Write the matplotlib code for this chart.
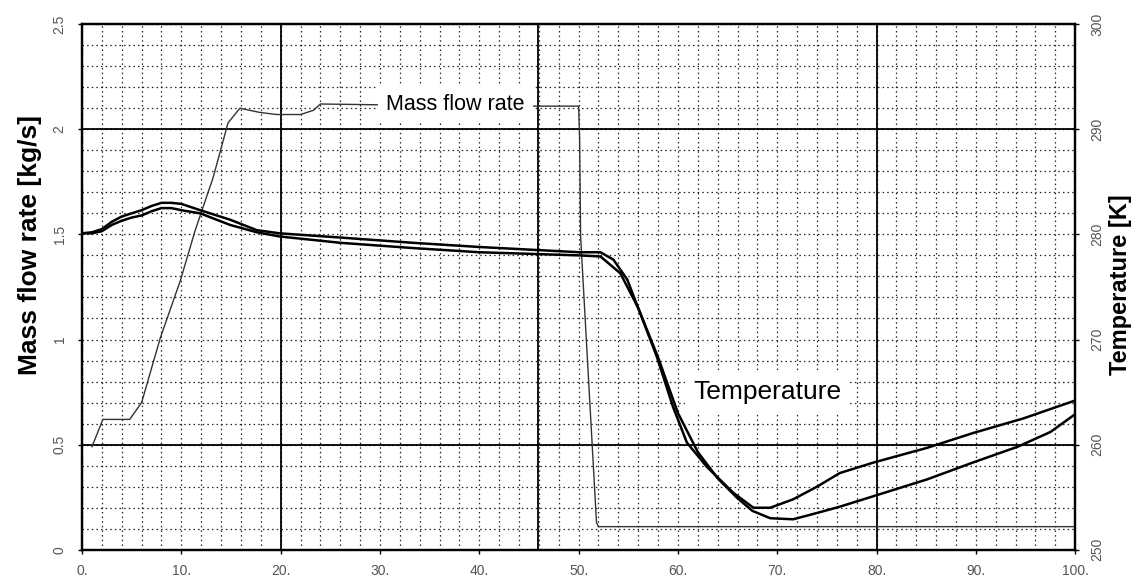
import numpy as np
import matplotlib.pyplot as plt

# mass flow rate [kg/s] vs time
flow_x = [1.0, 2.1, 4.8, 6.0, 7.9, 9.9, 11.4, 13.2, 14.7, 15.9, 17.9, 19.6, 22.0,
          23.3, 24.0, 40.0, 50.0, 50.1, 50.2, 51.8, 52.0, 100.0]
flow_y = [0.49, 0.62, 0.62, 0.70, 1.01, 1.28, 1.52, 1.77, 2.03, 2.10, 2.08, 2.07, 2.07,
          2.09, 2.12, 2.11, 2.11, 1.96, 1.49, 0.13, 0.11, 0.11]

# temperature [K], two traces
temp_a_x = [0.0, 1.0, 2.0, 3.0, 4.0, 5.0, 6.0, 7.0, 8.0, 9.0, 10.0, 11.9, 14.9, 17.6,
            19.9, 26.0, 33.3, 40.0, 50.1, 52.2, 53.5, 54.9, 56.2, 57.9, 59.5, 60.9,
            62.9, 65.6, 67.6, 69.3, 71.6, 74.0, 76.3, 79.7, 85.1, 89.7, 94.8, 100.0]
temp_a_y = [280.1, 280.2, 280.5, 281.2, 281.7, 282.0, 282.3, 282.7, 283.0, 283.0, 282.9, 282.3, 281.4, 280.4,
            280.1, 279.7, 279.2, 278.8, 278.3, 278.3, 277.6, 275.7, 272.5, 268.3, 263.6, 260.2,
            257.9, 255.4, 254.0, 254.0, 254.8, 256.0, 257.3, 258.3, 259.7, 261.1, 262.5, 264.2]
temp_b_x = [0.0, 1.0, 2.0, 3.0, 4.0, 5.0, 6.0, 7.0, 8.0, 9.0, 10.0, 11.9, 14.9, 17.6,
            19.9, 26.0, 33.3, 40.0, 50.1, 52.2, 54.2, 56.0, 58.0, 60.0, 62.0, 64.0,
            66.0, 67.5, 69.3, 71.6, 74.0, 76.3, 79.7, 85.1, 89.7, 94.2, 97.5, 100.0]
temp_b_y = [280.1, 280.1, 280.3, 280.9, 281.3, 281.6, 281.8, 282.2, 282.5, 282.5, 282.3, 282.0, 280.9, 280.2,
            279.8, 279.2, 278.7, 278.3, 278.0, 277.9, 276.3, 273.0, 268.3, 263.0, 259.3, 256.8,
            254.9, 253.7, 253.0, 252.9, 253.5, 254.1, 255.1, 256.7, 258.3, 259.8, 261.2, 262.9]

x_ticks = [0, 10, 20, 30, 40, 50, 60, 70, 80, 90, 100]
flow_ticks = [0, 0.5, 1, 1.5, 2, 2.5]
flow_labels = ['0', '0.5', '1', '1.5', '2', '2.5']
temp_ticks = [250, 260, 270, 280, 290, 300]

plt.rcParams['font.family'] = ['Liberation Sans', 'DejaVu Sans']

fig = plt.figure(figsize=(11.39, 5.88), dpi=100)
ax = fig.add_axes([0.072, 0.065, 0.872, 0.894])
ax2 = ax.twinx()

ax.set_xlim(0, 100)
ax.set_ylim(0, 2.5)
ax2.set_ylim(250, 300)

# grid: dotted minor + major lines
ax.set_xticks(x_ticks)
ax.set_xticks(np.arange(0, 101, 2), minor=True)
ax.set_yticks(flow_ticks)
ax.set_yticks(np.arange(0, 2.51, 0.1), minor=True)
ax.grid(which='both', color='#222222', linestyle=(0, (1.2, 2.5)), linewidth=0.9)
# heavier lines that show in the scan
for yv in [2.0, 0.5]:
    ax.axhline(yv, color='black', lw=1.3)
for xv in [20, 45.9, 80]:
    ax.axvline(xv, color='black', lw=1.3)

ax.plot(flow_x, flow_y, color='#333333', lw=1.0)
ax2.plot(temp_a_x, temp_a_y, color='black', lw=1.8)
ax2.plot(temp_b_x, temp_b_y, color='black', lw=1.8)

ax.set_yticklabels(flow_labels, rotation=90, va='center', fontsize=10, color='#555555')
ax.set_xticklabels([str(v) + '.' for v in x_ticks], fontsize=10, color='#555555')
ax2.set_yticks(temp_ticks)
ax2.set_yticklabels([str(v) for v in temp_ticks], rotation=90, va='center',
                    fontsize=10, color='#555555')
ax.tick_params(axis='y', length=3, width=1, pad=8)
ax.tick_params(axis='x', length=3, width=1, pad=7)
ax.tick_params(which='minor', length=0)
ax2.tick_params(length=3, width=1, pad=8)

for sp in ax.spines.values():
    sp.set_linewidth(1.6)
for sp in ax2.spines.values():
    sp.set_linewidth(1.6)

# axis titles (bottom ends line up in the original)
fig.text(30 / 1139, 0.362, 'Mass flow rate [kg/s]', rotation=90, fontsize=19,
         fontweight='bold', ha='center', va='bottom')
fig.text(1120 / 1139, 0.362, 'Temperature [K]', rotation=90, fontsize=17,
         fontweight='bold', ha='center', va='bottom')

ax.text(37.6, 2.12, 'Mass flow rate', fontsize=15.5, ha='center', va='center',
        bbox=dict(facecolor='white', edgecolor='none', pad=6), zorder=5)
ax2.text(69.0, 265.0, 'Temperature', fontsize=19, ha='center', va='center',
         bbox=dict(facecolor='white', edgecolor='none', pad=6), zorder=5)

fig.savefig('out.png', dpi=100)
